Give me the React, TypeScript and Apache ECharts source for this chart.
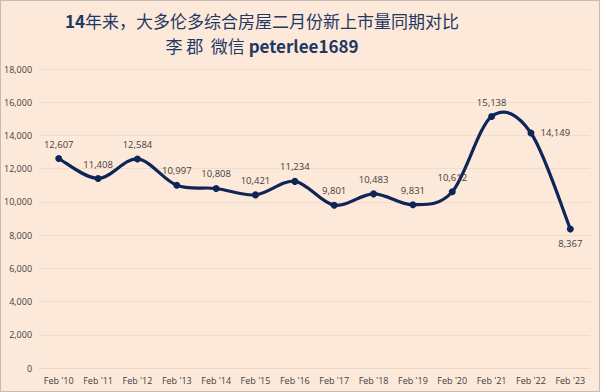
import React, { useEffect, useRef } from "react";
import * as echarts from "echarts";

const categories = ["Feb '10", "Feb '11", "Feb '12", "Feb '13", "Feb '14", "Feb '15", "Feb '16", "Feb '17", "Feb '18", "Feb '19", "Feb '20", "Feb '21", "Feb '22", "Feb '23"];
const values = [12607, 11408, 12584, 10997, 10808, 10421, 11234, 9801, 10483, 9831, 10612, 15138, 14149, 8367];
const labelPositions = ["top", "top", "top", "top", "top", "top", "top", "top", "top", "top", "top", "top", "right", "bottom"];
const yTicks = { min: 0, max: 18000, interval: 2000 };
const titleLine1Bold = "14";
const titleLine1Rest = "年来，大多伦多综合房屋二月份新上市量同期对比";
const titleLine2Rest = "李 郡  微信 ";
const titleLine2Bold = "peterlee1689";

const LINE_COLOR = "#0E2557";

function catmullRomPath(pts: number[][]): string {
  if (!pts.length) return "";
  let d = `M${pts[0][0]},${pts[0][1]}`;
  for (let i = 0; i < pts.length - 1; i++) {
    const p0 = pts[i - 1] || pts[i];
    const p1 = pts[i];
    const p2 = pts[i + 1];
    const p3 = pts[i + 2] || pts[i + 1];
    const c1x = p1[0] + (p2[0] - p0[0]) / 6;
    const c1y = p1[1] + (p2[1] - p0[1]) / 6;
    const c2x = p2[0] - (p3[0] - p1[0]) / 6;
    const c2y = p2[1] - (p3[1] - p1[1]) / 6;
    d += ` C${c1x},${c1y} ${c2x},${c2y} ${p2[0]},${p2[1]}`;
  }
  return d;
}

export default function App() {
  const ref = useRef<HTMLDivElement>(null);
  useEffect(() => {
    document.body.style.margin = "0";
    const chart = echarts.init(ref.current!, null, { renderer: "svg" });
    const rich = {
      b: { fontFamily: "Noto Sans CJK SC", fontSize: 17, fontWeight: "bold", fill: "#1F3864" },
      n: { fontFamily: "Noto Sans CJK SC", fontSize: 17, fontWeight: "normal", fill: "#1F3864" },
    };
    chart.setOption({
      animation: false,
      backgroundColor: "#FCE9D9",
      graphic: [
        {
          type: "text",
          x: 261,
          y: 19,
          style: {
            text: `{b|${titleLine1Bold}}{n|${titleLine1Rest}}`,
            rich,
            align: "center",
            verticalAlign: "middle",
            fontSize: 17,
            fontFamily: "Noto Sans CJK SC",
            fill: "#1F3864",
          },
        },
        {
          type: "text",
          x: 261,
          y: 44,
          style: {
            text: `{n|${titleLine2Rest}}{b|${titleLine2Bold}}`,
            rich,
            align: "center",
            verticalAlign: "middle",
            fontSize: 17,
            fontFamily: "Noto Sans CJK SC",
            fill: "#1F3864",
          },
        },
      ],
      grid: { left: 37, right: 9, top: 68, bottom: 23, containLabel: false },
      xAxis: {
        type: "category",
        data: categories,
        boundaryGap: true,
        axisLine: { show: true, lineStyle: { color: "#EAD7C8" } },
        axisTick: { show: false },
        axisLabel: { fontSize: 9, color: "#404040", fontFamily: "Open Sans", margin: 8 },
      },
      yAxis: {
        type: "value",
        min: yTicks.min,
        max: yTicks.max,
        interval: yTicks.interval,
        axisLine: { show: false },
        axisTick: { show: false },
        splitLine: { lineStyle: { color: "#F0DCCB", width: 1 } },
        axisLabel: {
          fontSize: 9,
          color: "#404040",
          fontFamily: "Open Sans",
          margin: 7,
          formatter: (v: number) => v.toLocaleString("en-US"),
        },
      },
      series: [
        {
          type: "custom",
          data: [[0, values[0]]],
          silent: true,
          z: 2,
          renderItem: (_params: any, api: any) => {
            const pts = values.map((v, i) => api.coord([i, v]));
            return {
              type: "path",
              shape: { pathData: catmullRomPath(pts) },
              style: { fill: "none", stroke: LINE_COLOR, lineWidth: 3.2, lineJoin: "round", lineCap: "round" },
            };
          },
        },
        {
          type: "line",
          z: 3,
          data: values.map((v, i) => ({
            value: v,
            label: { position: labelPositions[i] },
          })),
          symbol: "circle",
          symbolSize: 7,
          lineStyle: { color: LINE_COLOR, width: 0, opacity: 0 },
          itemStyle: { color: LINE_COLOR },
          label: {
            show: true,
            fontSize: 9.5,
            color: "#404040",
            fontFamily: "Open Sans",
            distance: 6,
            formatter: (p: any) => Number(p.value).toLocaleString("en-US"),
          },
        },
      ],
    });
    return () => chart.dispose();
  }, []);
  return (
    <div
      ref={ref}
      style={{ position: "absolute", left: 0, top: 0, width: 600, height: 392, boxSizing: "border-box", border: "1px solid #C8BCB2" }}
    />
  );
}
